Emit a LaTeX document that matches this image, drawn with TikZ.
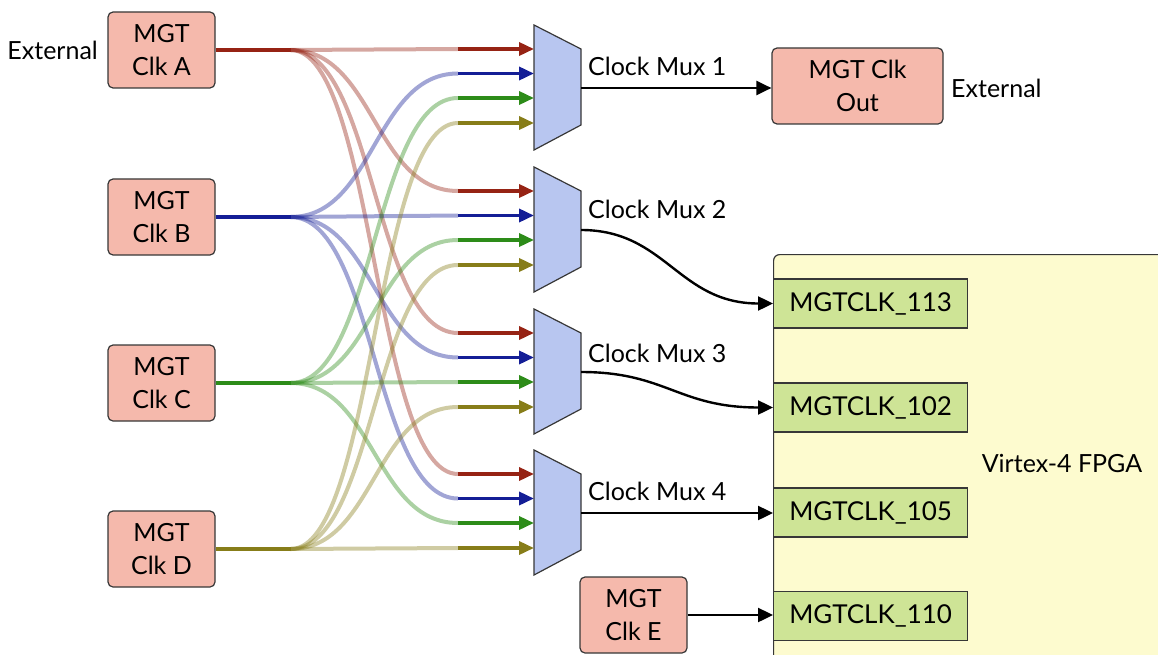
\documentclass[tikz,border=0pt]{standalone}
\usepackage{fontspec}
\setmainfont{Lato}
\usetikzlibrary{arrows.meta}
\definecolor{cred}{RGB}{150,35,20}
\definecolor{cblue}{RGB}{20,30,150}
\definecolor{cgreen}{RGB}{45,140,25}
\definecolor{colive}{RGB}{135,125,25}
\definecolor{salmon}{RGB}{245,185,172}
\definecolor{muxfill}{RGB}{184,198,240}
\definecolor{fpgafill}{RGB}{253,251,207}
\definecolor{pinfill}{RGB}{206,228,150}
\definecolor{edgec}{RGB}{55,55,55}
\tikzset{
  txt/.style={font=\fontsize{25}{33}\selectfont, inner sep=0pt},
  clk/.style={draw=edgec, fill=salmon, rounded corners=5pt, line width=1.2pt,
    minimum width=107pt, minimum height=76pt, align=center, inner sep=0pt,
    font=\fontsize{25}{33}\selectfont},
  pin/.style={draw=edgec, fill=pinfill, line width=1.2pt, minimum width=194pt,
    minimum height=49pt, inner sep=0pt, font=\fontsize{26}{30}\selectfont},
  fpga/.style={draw=edgec, fill=fpgafill, rounded corners=6pt, line width=1.2pt,
    minimum width=420pt, minimum height=440pt, inner sep=0pt},
  muxbox/.style={draw=edgec, fill=muxfill, line width=1.2pt, line join=miter},
  srcline/.style={line width=4pt},
  fan/.style={line width=4pt, draw opacity=0.4},
  inarrow/.style={line width=3.5pt, -{Triangle[length=15pt,width=13pt]}},
  outarrow/.style={line width=2.4pt, black, -{Triangle[length=15pt,width=14pt]}},
}
\begin{document}
\begin{tikzpicture}[x=1pt,y=-1pt]
\useasboundingbox (0,0) rectangle (1158,655);

% FPGA container
\node[fpga, anchor=north west] (fpga) at (773,254) {};
\node[txt] (fpgalbl) at (1062,463) {Virtex-4 FPGA};

% sources
\node[clk] (A) at (161.5,50) {MGT\\Clk A};
\node[clk] (B) at (161.5,217) {MGT\\Clk B};
\node[clk] (C) at (161.5,383) {MGT\\Clk C};
\node[clk] (D) at (161.5,549) {MGT\\Clk D};
\node[clk] (E) at (633.5,615) {MGT\\Clk E};
\node[clk, minimum width=171pt] (out) at (857.5,86) {MGT Clk\\Out};
\node[txt, anchor=east] (extA) at (98,50) {External};
\node[txt, anchor=west] (extO) at (951,88) {External};

\foreach \s in {A,B,C,D} {
  \coordinate (\s f) at ([xshift=75pt]\s.east);
}

% muxes
\foreach \k/\T in {1/25,2/167,3/309,4/450} {
  \draw[muxbox] (534,\T) -- (581,\T+24) -- (581,\T+100) -- (534,\T+125) -- cycle;
  \coordinate (m\k A) at (534,\T+24);
  \coordinate (m\k B) at (534,\T+48.5);
  \coordinate (m\k C) at (534,\T+73);
  \coordinate (m\k D) at (534,\T+98);
  \coordinate (m\k As) at (458,\T+24);
  \coordinate (m\k Bs) at (458,\T+48.5);
  \coordinate (m\k Cs) at (458,\T+73);
  \coordinate (m\k Ds) at (458,\T+98);
  \coordinate (m\k o) at (581,\T+63);
}
\node[txt, anchor=west] (l1) at (588,66) {Clock Mux 1};
\node[txt, anchor=west] (l2) at (588,209) {Clock Mux 2};
\node[txt, anchor=west] (l3) at (588,353) {Clock Mux 3};
\node[txt, anchor=west] (l4) at (588,491) {Clock Mux 4};

% translucent fan curves
\foreach \s/\c in {A/cred,B/cblue,C/cgreen,D/colive} {
  \foreach \k in {1,2,3,4} {
    \draw[fan, \c] (\s f) .. controls ([xshift=84pt]\s f) and ([xshift=-84pt]m\k\s s) .. (m\k\s s);
  }
}
% solid parts
\foreach \s/\c in {A/cred,B/cblue,C/cgreen,D/colive} {
  \draw[srcline, \c] (\s.east) -- (\s f);
  \foreach \k in {1,2,3,4} {
    \draw[inarrow, \c] (m\k\s s) -- (m\k\s);
  }
}

% pins
\node[pin, anchor=west] (p113) at (773,303.5) {MGTCLK\_113};
\node[pin, anchor=west] (p102) at (773,407.5) {MGTCLK\_102};
\node[pin, anchor=west] (p105) at (773,512.5) {MGTCLK\_105};
\node[pin, anchor=west] (p110) at (773,616) {MGTCLK\_110};

% outputs
\draw[outarrow] (m1o) -- (m1o -| out.west);
\draw[outarrow] (m2o) .. controls ([xshift=85pt]m2o) and ([xshift=-95pt]p113.west) .. (p113.west);
\draw[outarrow] (m3o) .. controls ([xshift=85pt]m3o) and ([xshift=-95pt]p102.west) .. (p102.west);
\draw[outarrow] (m4o) -- (m4o -| p105.west);
\draw[outarrow] (E.east) -- (E.east -| p110.west);
\end{tikzpicture}
\end{document}
